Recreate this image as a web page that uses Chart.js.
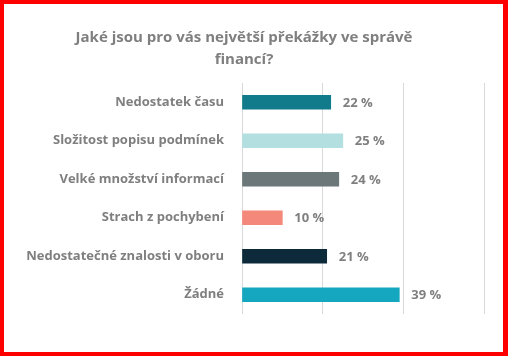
<!DOCTYPE html>
<html>
<head>
<meta charset="utf-8">
<script src="https://cdn.jsdelivr.net/npm/chart.js@4.4.0/dist/chart.umd.min.js"></script>
<style>
  html, body { margin: 0; padding: 0; background: #fff; }
  #frame {
    width: 508px; height: 356px; box-sizing: border-box;
    border-style: solid; border-color: #ff0000;
    border-width: 4px 5px 4px 4px; background: #fff;
  }
  #wrap { position: relative; width: 499px; height: 348px; }
</style>
</head>
<body>
<div id="frame"><div id="wrap"><canvas id="c"></canvas></div></div>
<script>
const titleLines = ["Jaké jsou pro vás největší překážky ve správě", "financí?"];
const categories = [
  "Nedostatek času",
  "Složitost popisu podmínek",
  "Velké množství informací",
  "Strach z pochybení",
  "Nedostatečné znalosti v oboru",
  "Žádné"
];
const values = [22, 25, 24, 10, 21, 39];
const barColors = ["#127b8b", "#b3dfe0", "#6b7778", "#f4887a", "#0c2a3a", "#14a7bf"];
const valueSuffix = " %";

const FONT = "'Open Sans', 'Noto Sans', sans-serif";
const GRAY = "#7f7f7f";

const valueLabels = {
  id: "valueLabels",
  afterDatasetsDraw(chart) {
    const ctx = chart.ctx;
    const meta = chart.getDatasetMeta(0);
    ctx.save();
    ctx.font = "bold 13px " + FONT;
    ctx.fillStyle = GRAY;
    ctx.textAlign = "left";
    ctx.textBaseline = "middle";
    meta.data.forEach((bar, i) => {
      ctx.fillText(values[i] + valueSuffix, bar.x + 12, bar.y + 1);
    });
    ctx.restore();
  }
};

new Chart(document.getElementById("c"), {
  type: "bar",
  data: {
    labels: categories,
    datasets: [{
      data: values,
      backgroundColor: barColors,
      borderWidth: 0,
      barThickness: 14
    }]
  },
  options: {
    indexAxis: "y",
    responsive: true,
    maintainAspectRatio: false,
    animation: false,
    layout: { padding: { top: 10, left: 0, right: 19, bottom: 38 } },
    plugins: {
      legend: { display: false },
      tooltip: { enabled: false },
      title: {
        display: true,
        text: titleLines,
        color: GRAY,
        font: { family: FONT, size: 15, weight: "bold", lineHeight: 1.5 },
        padding: { top: 12, bottom: 12 }
      }
    },
    scales: {
      x: {
        min: 0, max: 60,
        ticks: { display: false, stepSize: 20 },
        grid: { color: "#d9d9d9", drawTicks: false },
        border: { display: false }
      },
      y: {
        grid: { display: false, drawTicks: false },
        border: { display: false },
        ticks: {
          color: GRAY,
          padding: 18,
          font: { family: FONT, size: 13, weight: "bold" }
        },
        afterFit(scale) { scale.width = 238; }
      }
    }
  },
  plugins: [valueLabels]
});
</script>
</body>
</html>
